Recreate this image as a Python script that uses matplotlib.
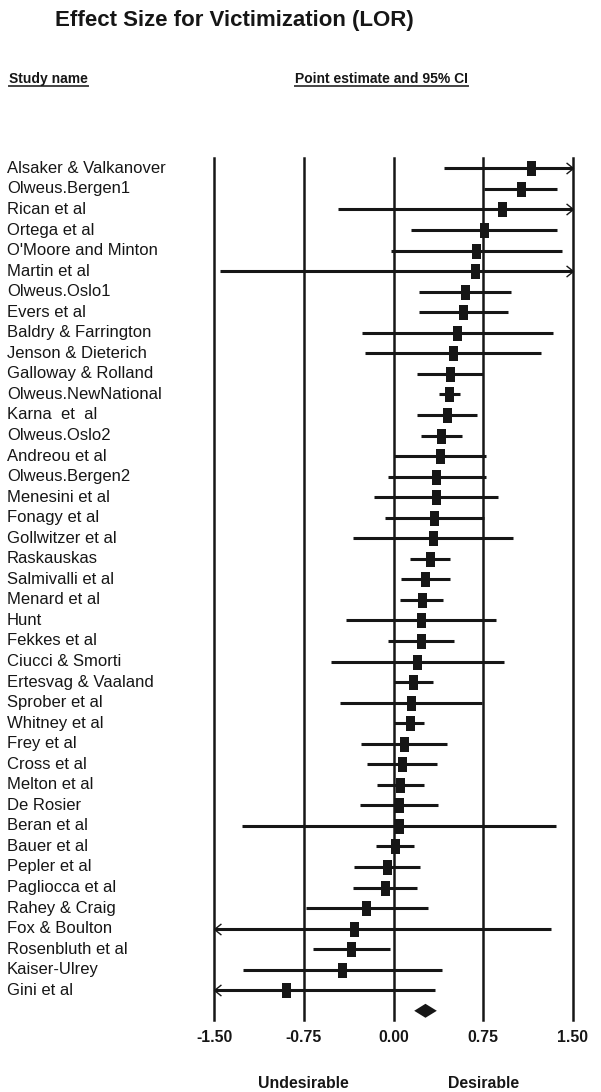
import numpy as np
import matplotlib.pyplot as plt
import matplotlib.transforms as mtransforms
from matplotlib.path import Path
from matplotlib.lines import Line2D

plt.rcParams['font.family'] = ['Liberation Sans', 'DejaVu Sans']

studies = [
    'Alsaker & Valkanover', 'Olweus.Bergen1', 'Rican et al', 'Ortega et al',
    "O'Moore and Minton", 'Martin et al', 'Olweus.Oslo1', 'Evers et al',
    'Baldry & Farrington', 'Jenson & Dieterich', 'Galloway & Rolland',
    'Olweus.NewNational', 'Karna  et  al', 'Olweus.Oslo2', 'Andreou et al',
    'Olweus.Bergen2', 'Menesini et al', 'Fonagy et al', 'Gollwitzer et al',
    'Raskauskas', 'Salmivalli et al', 'Menard et al', 'Hunt', 'Fekkes et al',
    'Ciucci & Smorti', 'Ertesvag & Vaaland', 'Sprober et al', 'Whitney et al',
    'Frey et al', 'Cross et al', 'Melton et al', 'De Rosier', 'Beran et al',
    'Bauer et al', 'Pepler et al', 'Pagliocca et al', 'Rahey & Craig',
    'Fox & Boulton', 'Rosenbluth et al', 'Kaiser-Ulrey', 'Gini et al',
]
point = [
    1.147, 1.063, 0.905, 0.754, 0.693, 0.682, 0.598, 0.584, 0.529, 0.495,
    0.468, 0.465, 0.443, 0.401, 0.392, 0.359, 0.353, 0.337, 0.328, 0.306,
    0.267, 0.237, 0.231, 0.231, 0.198, 0.167, 0.148, 0.134, 0.086, 0.070,
    0.058, 0.045, 0.045, 0.011, -0.053, -0.075, -0.228, -0.334, -0.353,
    -0.429, -0.902,
]
lower = [
    0.426, 0.757, -0.468, 0.148, -0.017, -1.453, 0.217, 0.217, -0.267, -0.237,
    0.195, 0.379, 0.195, 0.228, 0.006, -0.047, -0.164, -0.075, -0.342, 0.142,
    0.061, 0.056, -0.395, -0.042, -0.526, 0.006, -0.443, 0.006, -0.270, -0.225,
    -0.136, -0.278, -1.269, -0.150, -0.331, -0.340, -0.735, -1.980, -0.676,
    -1.261, -2.150,
]
upper = [
    1.870, 1.364, 2.280, 1.369, 1.408, 2.820, 0.982, 0.960, 1.333, 1.230,
    0.751, 0.557, 0.696, 0.576, 0.774, 0.771, 0.874, 0.754, 1.002, 0.473,
    0.473, 0.417, 0.860, 0.507, 0.924, 0.334, 0.740, 0.259, 0.445, 0.365,
    0.259, 0.376, 1.358, 0.173, 0.220, 0.195, 0.292, 1.314, -0.028,
    0.409, 0.345,
]

summary_point = 0.267
summary_lower = 0.173
summary_upper = 0.362

ticks = [-1.50, -0.75, 0.00, 0.75, 1.50]
tick_labels = ['-1.50', '-0.75', '0.00', '0.75', '1.50']

ink = '#161616'

fig = plt.figure(figsize=(6.01, 10.92), dpi=100)
ax = fig.add_axes([0.3561, 0.0659, 0.5973, 0.7891])

xmin, xmax = ticks[0], ticks[-1]
for t in ticks:
    ax.axvline(t, color=ink, lw=1.8, zorder=1, clip_on=False)

box = [(-0.3, -0.5), (0.3, -0.5), (0.3, 0.5), (-0.3, 0.5), (-0.3, -0.5)]
right_head = Path([(-1, 0.8), (0, 0), (-1, -0.8)],
                  [Path.MOVETO, Path.LINETO, Path.LINETO])
left_head = Path([(1, 0.8), (0, 0), (1, -0.8)],
                 [Path.MOVETO, Path.LINETO, Path.LINETO])

rows = np.arange(len(studies))
for i in rows:
    lo = max(lower[i], xmin)
    hi = min(upper[i], xmax)
    ax.plot([lo, hi], [i, i], color=ink, lw=2.2, solid_capstyle='butt',
            zorder=2, clip_on=False)
    # CI runs off the scale -> open arrow at the edge
    if upper[i] > xmax:
        ax.plot(xmax, i, marker=right_head, ms=10, mfc='none', mec=ink,
                mew=1.0, clip_on=False, zorder=3)
    if lower[i] < xmin:
        ax.plot(xmin, i, marker=left_head, ms=10, mfc='none', mec=ink,
                mew=1.0, clip_on=False, zorder=3)

ax.plot(point, rows, ls='none', marker=box, ms=10.8, color=ink, mew=0,
        zorder=4)

# summary diamond
ys = len(studies)
ax.fill([summary_lower, summary_point, summary_upper, summary_point],
        [ys, ys - 0.34, ys, ys + 0.34], color=ink, lw=0, zorder=4)

ax.set_xlim(xmin, xmax)
ax.set_ylim(41.45, -0.49)
ax.set_xticks(ticks, tick_labels, fontsize=11.4, fontweight='bold')
ax.tick_params(axis='x', length=0, pad=7, colors=ink)
ax.set_yticks([])
for s in ax.spines.values():
    s.set_visible(False)

name_tr = mtransforms.blended_transform_factory(fig.transFigure, ax.transData)
for i, name in enumerate(studies):
    ax.text(0.0116, i, name, transform=name_tr, ha='left', va='center',
            fontsize=12, color=ink)

low_tr = mtransforms.blended_transform_factory(ax.transData, fig.transFigure)
ax.text(-0.75, 0.0034, 'Undesirable', transform=low_tr, ha='center',
        va='baseline', fontsize=11.4, fontweight='bold', color=ink)
ax.text(0.75, 0.0034, 'Desirable', transform=low_tr, ha='center',
        va='baseline', fontsize=11.4, fontweight='bold', color=ink)

fig.text(0.390, 0.9762, 'Effect Size for Victimization (LOR)', ha='center',
         va='baseline', fontsize=16, fontweight='bold', color=ink)

h1 = fig.text(0.015, 0.924, 'Study name', ha='left', va='baseline',
              fontsize=10, fontweight='bold', color=ink)
h2 = fig.text(0.491, 0.924, 'Point estimate and 95% CI', ha='left',
              va='baseline', fontsize=10, fontweight='bold', color=ink)

renderer = fig.canvas.get_renderer()
W = fig.bbox.width
for h in (h1, h2):
    bb = h.get_window_extent(renderer)
    fig.add_artist(Line2D([bb.x0 / W, bb.x1 / W], [0.9208, 0.9208],
                          transform=fig.transFigure, color='#444444', lw=1.4))

fig.savefig('out.png', dpi=100)
